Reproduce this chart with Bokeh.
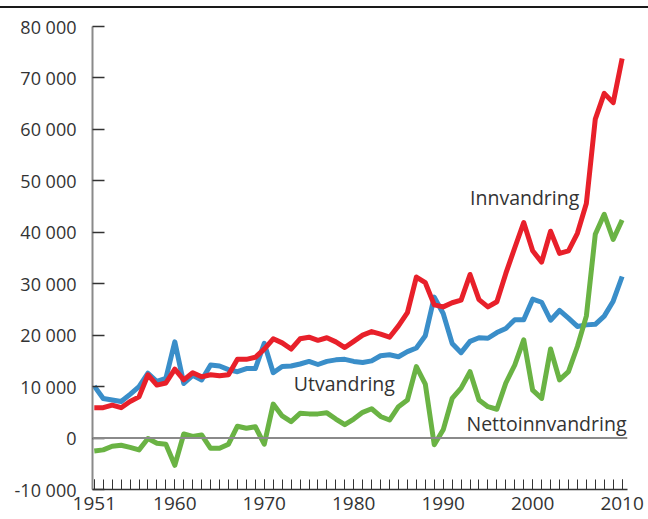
from bokeh.plotting import figure
from bokeh.models import FixedTicker, Span, Range1d
from bokeh.core.properties import value
from bokeh.embed import file_html
from bokeh.resources import INLINE

years = list(range(1951, 2011))

innvandring = [5900, 5900, 6400, 5900, 7100, 8000, 12300, 10300, 10700, 13400,
               11300, 12700, 11900, 12300, 12100, 12300, 15300, 15300, 15700, 17300,
               19300, 18500, 17300, 19300, 19600, 19000, 19500, 18700, 17600, 18800,
               20000, 20700, 20200, 19600, 21800, 24400, 31300, 30200, 25900, 25500,
               26300, 26800, 31800, 26900, 25500, 26500, 32000, 37000, 41900, 36400,
               34200, 40200, 35900, 36400, 39800, 45600, 62000, 67000, 65200, 73800]

utvandring = [10100, 7700, 7400, 7100, 8500, 10000, 12600, 11000, 11600, 18700,
              10600, 12200, 11300, 14200, 14000, 13300, 12900, 13500, 13500, 18400,
              12700, 13900, 14000, 14400, 14900, 14300, 14900, 15200, 15300, 14900,
              14700, 15000, 16000, 16200, 15800, 16800, 17500, 19900, 27400, 24200,
              18400, 16600, 18800, 19500, 19400, 20500, 21300, 23000, 23000, 27000,
              26400, 22900, 24800, 23300, 21700, 22000, 22100, 23700, 26600, 31400]

netto = [-2500, -2300, -1600, -1400, -1800, -2300, -100, -1000, -1200, -5300,
         800, 300, 600, -2000, -2000, -1200, 2300, 1900, 2200, -1200,
         6600, 4300, 3200, 4800, 4700, 4700, 4900, 3700, 2600, 3700,
         5000, 5700, 4200, 3500, 6100, 7400, 13900, 10500, -1300, 1600,
         7700, 9700, 12900, 7400, 6100, 5600, 10700, 14200, 19100, 9300,
         7700, 17300, 11300, 12900, 17800, 23700, 39600, 43500, 38600, 42400]

series_names = ["Innvandring", "Utvandring", "Nettoinnvandring"]
label_x = [1993.0, 1973.3, 1992.6]
label_y = [46800, 10600, 2800]

y_ticks = [-10000, 0, 10000, 20000, 30000, 40000, 50000, 60000, 70000, 80000]
y_tick_labels = ["-10 000", "0", "10 000", "20 000", "30 000", "40 000",
                 "50 000", "60 000", "70 000", "80 000"]
x_ticks = [1951, 1960, 1970, 1980, 1990, 2000, 2010]

FONT = "Open Sans"
TXT = "#333333"
RED = "#e8202a"
BLUE = "#3a8ec9"
GREEN = "#6ab344"

p = figure(width=648, height=511, output_backend="svg", toolbar_location=None,
           x_range=Range1d(1950.8, 2010.6), y_range=Range1d(-10000, 80000),
           min_border_left=92, min_border_right=21, min_border_top=18,
           min_border_bottom=30)
p.outline_line_color = None
p.grid.visible = False
p.background_fill_color = "white"
p.styles = {"margin-top": "6px", "border-top": "2px solid #1a1a1a"}

zero = Span(location=0, dimension="width", line_color="#8a8a8a", line_width=2)
p.add_layout(zero)

p.line(years, utvandring, line_color=BLUE, line_width=5, line_join="round")
p.line(years, innvandring, line_color=RED, line_width=5, line_join="round")
p.line(years, netto, line_color=GREEN, line_width=5, line_join="round")

p.text(x=label_x, y=label_y, text=series_names, text_font=value(FONT),
       text_font_size="19.5px", text_color=TXT, text_align="left",
       text_baseline="middle")

# y axis
ya = p.yaxis[0]
ya.ticker = FixedTicker(ticks=y_ticks)
ya.major_label_overrides = {t: l for t, l in zip(y_ticks, y_tick_labels)}
ya.major_label_text_font = FONT
ya.major_label_text_font_size = "18px"
ya.major_label_text_color = TXT
ya.major_label_standoff = 16
ya.major_tick_in = 12
ya.major_tick_out = 0
ya.major_tick_line_color = "#333333"
ya.major_tick_line_width = 1.5
ya.minor_tick_line_color = None
ya.axis_line_color = "#8a8a8a"
ya.axis_line_width = 2

# x axis
xa = p.xaxis[0]
xa.ticker = FixedTicker(ticks=x_ticks, minor_ticks=years)
xa.major_label_text_font = FONT
xa.major_label_text_font_size = "19px"
xa.major_label_text_color = TXT
xa.major_label_standoff = 7
xa.major_tick_in = 10
xa.major_tick_out = 0
xa.minor_tick_in = 10
xa.minor_tick_out = 0
xa.major_tick_line_color = "#333333"
xa.minor_tick_line_color = "#333333"
xa.major_tick_line_width = 1
xa.minor_tick_line_width = 1
xa.axis_line_color = "#333333"
xa.axis_line_width = 1.5

open("out.html", "w").write(file_html(p, INLINE))
